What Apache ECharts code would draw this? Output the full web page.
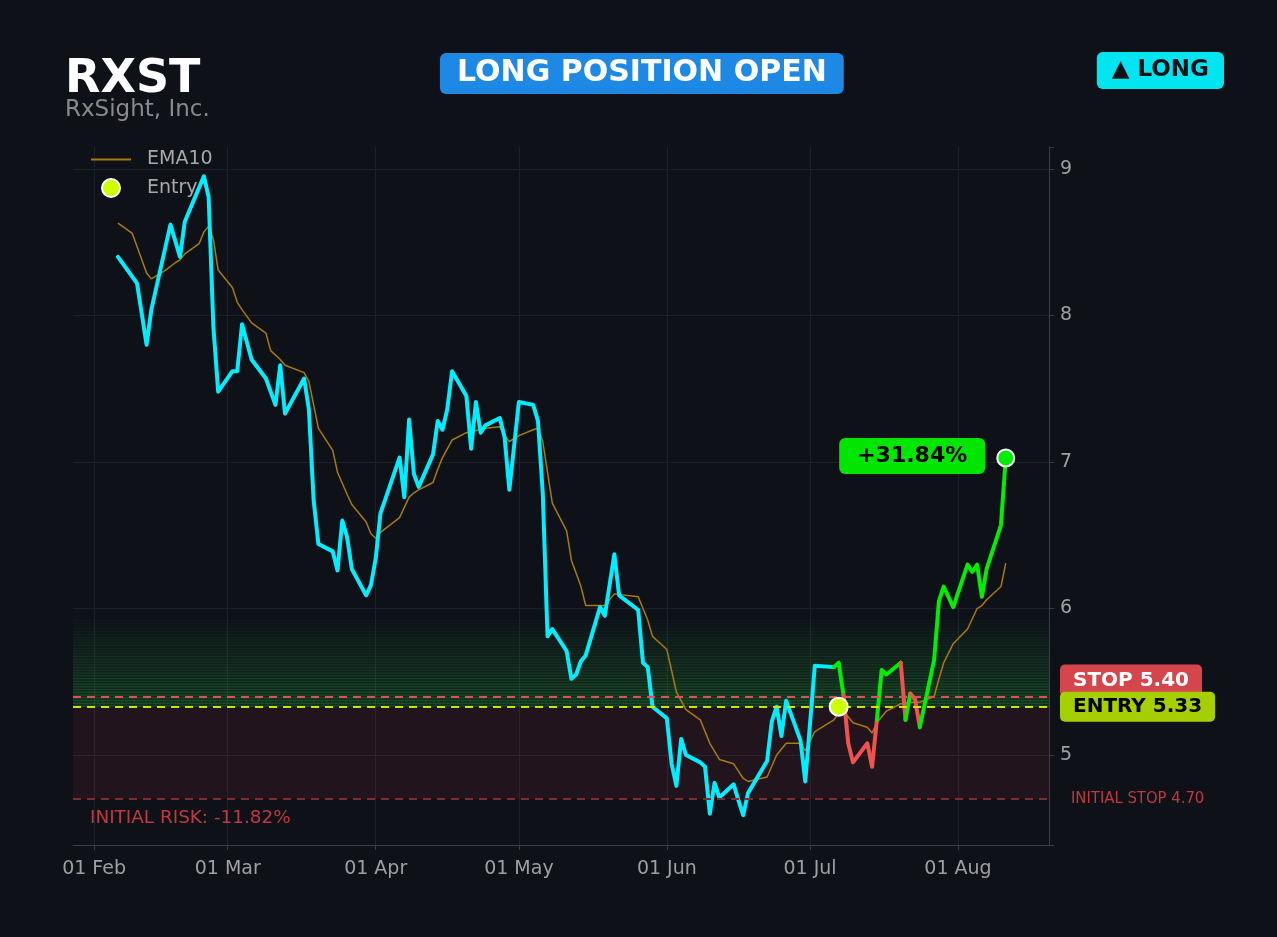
<!DOCTYPE html>
<html><head><meta charset="utf-8">
<script src="https://cdn.jsdelivr.net/npm/echarts@6/dist/echarts.min.js"></script>
<style>html,body{margin:0;padding:0;background:#0e1118;}#c{width:1277px;height:937px;}</style>
</head><body><div id="c"></div>
<script>
const TICKER = 'RXST';
const COMPANY = 'RxSight, Inc.';
const STATUS = 'LONG POSITION OPEN';
const SIDE = '▲ LONG';

const priceDates = ['2026-02-06','2026-02-10','2026-02-12','2026-02-13','2026-02-17','2026-02-19','2026-02-20','2026-02-24','2026-02-25','2026-02-26','2026-02-27',
'2026-03-02','2026-03-03','2026-03-04','2026-03-06','2026-03-09','2026-03-11','2026-03-12','2026-03-13','2026-03-17','2026-03-18','2026-03-19','2026-03-20','2026-03-23','2026-03-24','2026-03-25','2026-03-26','2026-03-27','2026-03-30','2026-03-31',
'2026-04-01','2026-04-02','2026-04-06','2026-04-07','2026-04-08','2026-04-09','2026-04-10','2026-04-13','2026-04-14','2026-04-15','2026-04-16','2026-04-17','2026-04-20','2026-04-21','2026-04-22','2026-04-23','2026-04-24','2026-04-27','2026-04-28','2026-04-29',
'2026-05-01','2026-05-04','2026-05-05','2026-05-06','2026-05-07','2026-05-08','2026-05-11','2026-05-12','2026-05-13','2026-05-14','2026-05-15','2026-05-18','2026-05-19','2026-05-21','2026-05-22','2026-05-26','2026-05-27','2026-05-28','2026-05-29',
'2026-06-01','2026-06-02','2026-06-03','2026-06-04','2026-06-05','2026-06-08','2026-06-09','2026-06-10','2026-06-11','2026-06-12','2026-06-15','2026-06-16','2026-06-17','2026-06-18','2026-06-22','2026-06-23','2026-06-24','2026-06-25','2026-06-26','2026-06-29','2026-06-30',
'2026-07-02','2026-07-06','2026-07-07','2026-07-08','2026-07-09','2026-07-10','2026-07-13','2026-07-14','2026-07-15','2026-07-16','2026-07-17','2026-07-20','2026-07-21','2026-07-22','2026-07-23','2026-07-24','2026-07-27','2026-07-28','2026-07-29','2026-07-31',
'2026-08-03','2026-08-04','2026-08-05','2026-08-06','2026-08-07','2026-08-10','2026-08-11'];
const priceValues = [8.40,8.22,7.80,8.04,8.62,8.40,8.64,8.95,8.81,7.92,7.48,
7.62,7.62,7.94,7.70,7.57,7.39,7.66,7.33,7.57,7.36,6.74,6.44,6.39,6.26,6.60,6.49,6.27,6.09,6.16,
6.34,6.65,7.03,6.76,7.29,6.92,6.83,7.05,7.28,7.22,7.36,7.62,7.45,7.09,7.41,7.20,7.25,7.30,7.17,6.81,
7.41,7.39,7.28,6.79,5.81,5.86,5.71,5.52,5.55,5.64,5.68,6.01,5.95,6.37,6.09,5.99,5.63,5.60,5.33,
5.25,4.94,4.79,5.11,5.00,4.95,4.92,4.60,4.81,4.71,4.80,4.69,4.59,4.74,4.96,5.23,5.33,5.13,5.37,5.10,4.82,
5.61,5.60,5.63,5.41,5.08,4.95,5.08,4.92,5.24,5.58,5.55,5.63,5.24,5.42,5.38,5.19,5.65,6.05,6.15,6.01,
6.30,6.25,6.30,6.08,6.27,6.57,7.027];

const emaDates = ['2026-02-06','2026-02-09','2026-02-11','2026-02-12','2026-02-13','2026-02-16','2026-02-18','2026-02-19','2026-02-20','2026-02-23','2026-02-24','2026-02-25','2026-02-26','2026-02-27',
'2026-03-02','2026-03-03','2026-03-04','2026-03-06','2026-03-09','2026-03-10','2026-03-12','2026-03-13','2026-03-17','2026-03-18','2026-03-20','2026-03-23','2026-03-24','2026-03-26','2026-03-27','2026-03-30','2026-03-31',
'2026-04-01','2026-04-02','2026-04-06','2026-04-08','2026-04-09','2026-04-10','2026-04-13','2026-04-14','2026-04-15','2026-04-17','2026-04-20','2026-04-24','2026-04-27','2026-04-28','2026-04-29',
'2026-05-01','2026-05-04','2026-05-05','2026-05-06','2026-05-08','2026-05-11','2026-05-12','2026-05-14','2026-05-15','2026-05-19','2026-05-21','2026-05-26','2026-05-28','2026-05-29',
'2026-06-01','2026-06-03','2026-06-05','2026-06-08','2026-06-10','2026-06-12','2026-06-15','2026-06-17','2026-06-18','2026-06-22','2026-06-24','2026-06-26','2026-06-29','2026-06-30',
'2026-07-02','2026-07-06','2026-07-07','2026-07-08','2026-07-10','2026-07-13','2026-07-14','2026-07-15','2026-07-17','2026-07-20','2026-07-22','2026-07-24','2026-07-27','2026-07-28','2026-07-29','2026-07-31',
'2026-08-03','2026-08-05','2026-08-06','2026-08-07','2026-08-10','2026-08-11'];
const emaValues = [8.63,8.56,8.38,8.29,8.25,8.31,8.36,8.38,8.42,8.49,8.57,8.61,8.52,8.31,
8.19,8.09,8.04,7.95,7.88,7.76,7.70,7.66,7.61,7.55,7.23,7.08,6.93,6.78,6.71,6.59,6.51,
6.48,6.52,6.62,6.76,6.79,6.81,6.86,6.95,7.03,7.15,7.20,7.23,7.24,7.18,7.14,
7.18,7.22,7.23,7.14,6.72,6.53,6.33,6.15,6.02,6.02,6.10,6.08,5.92,5.81,
5.72,5.43,5.31,5.24,5.08,4.97,4.94,4.84,4.82,4.85,5.00,5.08,5.08,5.03,
5.16,5.24,5.29,5.30,5.22,5.19,5.15,5.22,5.30,5.35,5.36,5.36,5.40,5.52,5.63,5.76,
5.86,6.00,6.02,6.06,6.15,6.31];

const ENTRY_DATE = '2026-07-07';
const ENTRY = 5.33;
const STOP = 5.40;
const INITIAL_STOP = 4.70;
const BAND_TOP = 5.97;
const BAND_STRIPES = 34;

const X_MIN = '2026-01-27 14:00';
const X_MAX = '2026-08-20 01:30';
const Y_MIN = 4.386;
const Y_MAX = 9.15;

const C_BG = '#0e1118', C_CYAN = '#00eeff', C_GREEN = '#00ee00', C_RED = '#ef5350', C_EMA = '#a87a10';
const FONT = 'DejaVu Sans';
const MONTHS = ['Jan','Feb','Mar','Apr','May','Jun','Jul','Aug','Sep','Oct','Nov','Dec'];

const pts = priceDates.map((d, i) => [d, priceValues[i]]);
const emaPts = emaDates.map((d, i) => [d, emaValues[i]]);
const firstPost = pts.findIndex(p => p[0] >= ENTRY_DATE);
const startIdx = firstPost - 1;
const prePts = pts.slice(0, startIdx + 1);

const runs = [];
let cur = null;
for (let i = startIdx; i < pts.length - 1; i++) {
  const col = pts[i + 1][1] >= STOP ? C_GREEN : C_RED;
  if (cur && cur.color === col) cur.data.push(pts[i + 1]);
  else { cur = { color: col, data: [pts[i], pts[i + 1]] }; runs.push(cur); }
}
const last = pts[pts.length - 1];
const gainPct = (last[1] - ENTRY) / ENTRY * 100;
const riskPct = (INITIAL_STOP - ENTRY) / ENTRY * 100;

// green profit zone above entry: soft gradient plus fading stripes
const bandAreas = [[
  { yAxis: ENTRY, itemStyle: { color: { type: 'linear', x: 0, y: 0, x2: 0, y2: 1,
      colorStops: [{ offset: 0, color: 'rgba(40,170,60,0)' }, { offset: 1, color: 'rgba(40,170,60,0.2)' }] } } },
  { yAxis: BAND_TOP }
]];
const stripeStep = (BAND_TOP - ENTRY) / BAND_STRIPES;
for (let k = 0; k < BAND_STRIPES; k++) {
  const y0 = ENTRY + stripeStep * k;
  bandAreas.push([{ yAxis: y0, itemStyle: { color: 'rgba(60,200,80,' + (0.2 * (1 - k / BAND_STRIPES)).toFixed(3) + ')' } },
                  { yAxis: y0 + stripeStep * 0.4 }]);
}
bandAreas.push([{ yAxis: INITIAL_STOP, itemStyle: { color: 'rgba(255,60,80,0.085)' } }, { yAxis: ENTRY }]);

const lineBase = { type: 'line', symbol: 'none', smooth: false, silent: true, animation: false };

const series = [
  Object.assign({}, lineBase, {
    name: 'EMA10', data: emaPts, z: 2,
    lineStyle: { color: C_EMA, width: 1.5 }, itemStyle: { color: C_EMA }
  }),
  Object.assign({}, lineBase, {
    name: 'Price', data: prePts, z: 3,
    lineStyle: { color: C_CYAN, width: 4, join: 'round', cap: 'round' },
    markArea: { silent: true, data: bandAreas },
    markLine: {
      silent: true, symbol: ['none', 'none'], animation: false,
      data: [
        { yAxis: STOP, lineStyle: { color: '#e0504c', width: 2, type: [8, 6] },
          label: { show: true, position: 'end', distance: 11, offset: [0, -16], formatter: 'STOP ' + STOP.toFixed(2),
            color: '#fff', fontWeight: 'bold', fontSize: 20, fontFamily: FONT, lineHeight: 22,
            backgroundColor: '#d4464b', padding: [5, 13], borderRadius: 5 } },
        { yAxis: ENTRY, lineStyle: { color: '#c8e600', width: 2, type: [8, 6] },
          label: { show: true, position: 'end', distance: 11, formatter: 'ENTRY ' + ENTRY.toFixed(2),
            color: '#000', fontWeight: 'bold', fontSize: 20, fontFamily: FONT, lineHeight: 22,
            backgroundColor: '#a6cf00', padding: [4, 13], borderRadius: 5 } },
        { yAxis: INITIAL_STOP, lineStyle: { color: '#7e2d33', width: 2, type: [8, 6] },
          label: { show: true, position: 'end', distance: 22, formatter: 'INITIAL STOP ' + INITIAL_STOP.toFixed(2),
            color: '#c0393e', fontSize: 16.5, fontFamily: 'DejaVu Sans Condensed, DejaVu Sans' } },
        { yAxis: INITIAL_STOP, lineStyle: { color: 'rgba(0,0,0,0)', width: 1 },
          label: { show: true, position: 'insideStartBottom', distance: [17, 10], formatter: 'INITIAL RISK: ' + riskPct.toFixed(2) + '%',
            color: '#c0393e', fontSize: 18.4, fontFamily: FONT } }
      ]
    }
  })
];
runs.forEach((r, i) => series.push(Object.assign({}, lineBase, {
  name: 'seg' + i, data: r.data, z: 3,
  lineStyle: { color: r.color, width: 4, join: 'round', cap: 'round' }
})));
series.push({
  type: 'scatter', name: 'Entry', data: [[ENTRY_DATE, ENTRY]], symbol: 'circle', symbolSize: 18, z: 5,
  itemStyle: { color: '#ccff00', borderColor: '#ffffff', borderWidth: 2, opacity: 1 }, silent: true, animation: false
});
series.push({
  type: 'scatter', name: 'Last', data: [last], symbol: 'circle', symbolSize: 17, z: 6,
  itemStyle: { color: C_GREEN, borderColor: '#ffffff', borderWidth: 2, opacity: 1 }, silent: true, animation: false,
  label: { show: true, position: 'left', distance: 11, offset: [0, -2], formatter: (gainPct >= 0 ? '+' : '') + gainPct.toFixed(2) + '%',
    color: '#000', fontWeight: 'bold', fontSize: 22, fontFamily: FONT, lineHeight: 24,
    backgroundColor: '#00e600', padding: [6, 18], borderRadius: 6 }
});

const chart = echarts.init(document.getElementById('c'), null, { renderer: 'canvas' });
chart.setOption({
  backgroundColor: C_BG,
  animation: false,
  textStyle: { fontFamily: FONT },
  title: [
    { text: TICKER, left: 60, top: 52, textStyle: { color: '#ffffff', fontSize: 46, fontWeight: 'bold', fontFamily: FONT, lineHeight: 46 } },
    { text: COMPANY, left: 60, top: 92, textStyle: { color: '#8a8a8a', fontSize: 23, fontWeight: 'normal', fontFamily: FONT, lineHeight: 26 } },
    { text: STATUS, left: 440, top: 53, backgroundColor: '#1e88e5', borderRadius: 6, padding: [5, 17],
      textStyle: { color: '#ffffff', fontSize: 30, fontWeight: 'bold', fontFamily: FONT, lineHeight: 31 } },
    { text: SIDE, right: 53, top: 52, backgroundColor: '#00e5f0', borderRadius: 6, padding: [5, 15],
      textStyle: { color: '#0e1118', fontSize: 23, fontWeight: 'bold', fontFamily: FONT, lineHeight: 27 } }
  ],
  legend: {
    data: [{ name: 'EMA10', itemStyle: { opacity: 0 } }, 'Entry'],
    orient: 'vertical', left: 85, top: 145, itemWidth: 40, itemHeight: 18, itemGap: 9,
    textStyle: { color: '#a8a8a8', fontSize: 19, fontFamily: FONT, lineHeight: 18, padding: [0, 0, 0, 11] },
    selectedMode: false
  },
  grid: { left: 73, right: 228, top: 147, bottom: 92, containLabel: false },
  xAxis: {
    type: 'time', min: X_MIN, max: X_MAX,
    minInterval: 28 * 86400000, maxInterval: 31 * 86400000,
    axisLine: { show: true, lineStyle: { color: '#3a3f47' } },
    axisTick: { show: true, length: 5, lineStyle: { color: '#3a3f47' } },
    splitLine: { show: true, showMinLine: false, showMaxLine: false, lineStyle: { color: '#1d2129', width: 1 } },
    axisLabel: {
      color: '#a0a0a0', fontSize: 19, fontFamily: FONT, margin: 15,
      formatter: v => { const d = new Date(v); return d.getDate() === 1 ? '01 ' + MONTHS[d.getMonth()] : ''; }
    }
  },
  yAxis: {
    type: 'value', position: 'right', min: Y_MIN, max: Y_MAX, splitNumber: 5, scale: true,
    axisLine: { show: true, lineStyle: { color: '#3a3f47' } },
    axisTick: { show: true, length: 5, lineStyle: { color: '#3a3f47' } },
    splitLine: { show: true, showMinLine: false, showMaxLine: false, lineStyle: { color: '#1d2129', width: 1 } },
    axisLabel: {
      color: '#a0a0a0', fontSize: 19, fontFamily: FONT, margin: 11, padding: [4, 0, 0, 0],
      formatter: v => Math.abs(v - Math.round(v)) < 1e-6 ? String(Math.round(v)) : ''
    }
  },
  series: series
});
</script>
</body></html>
